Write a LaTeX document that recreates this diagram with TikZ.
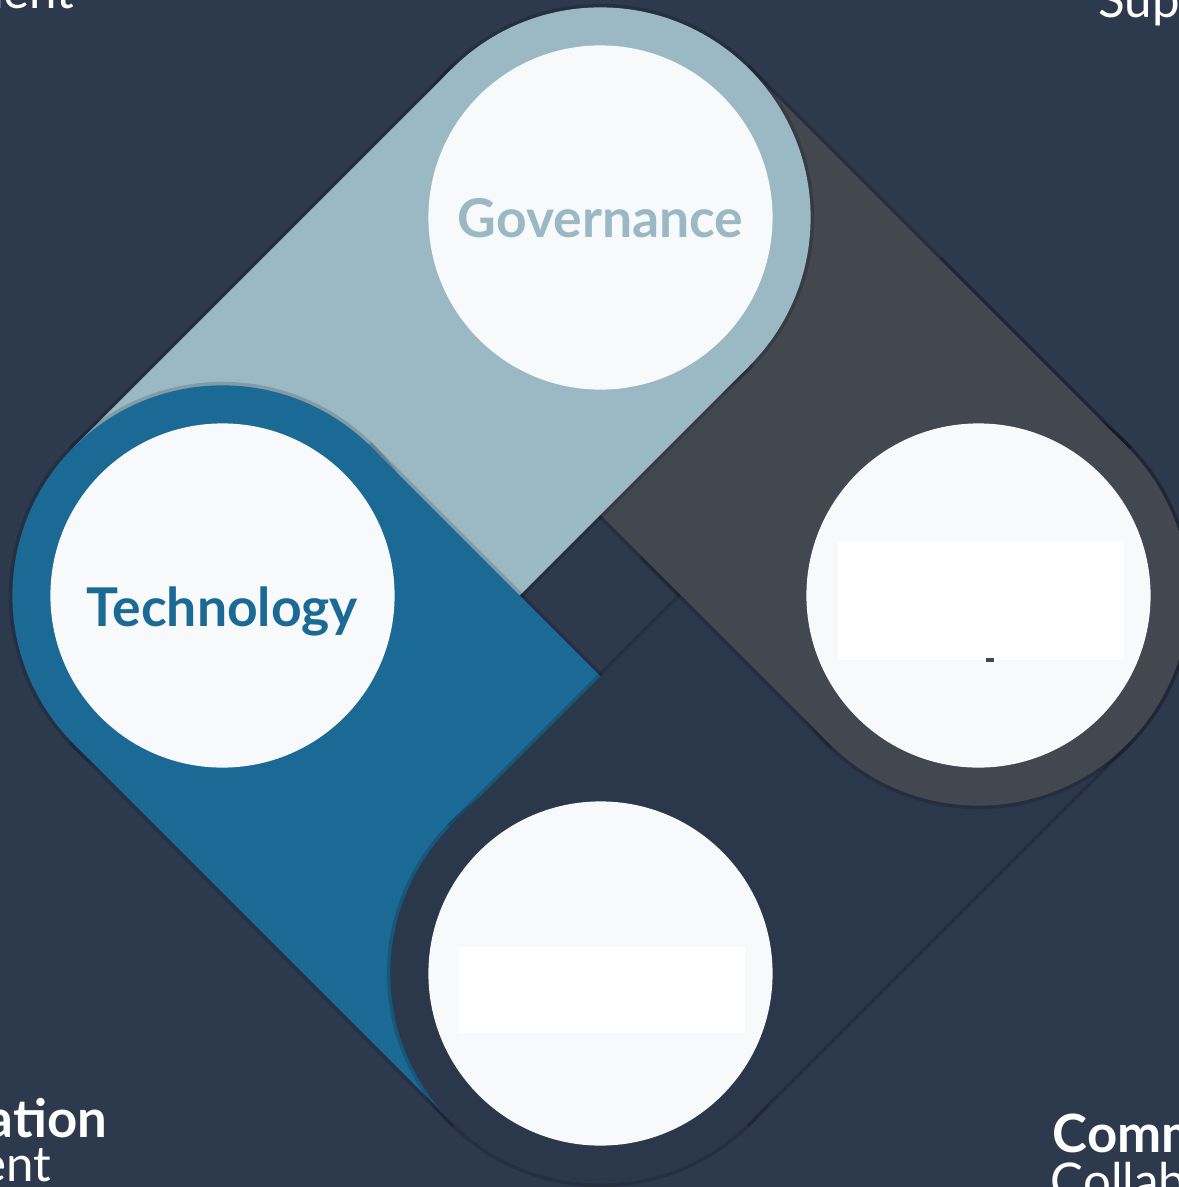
\documentclass[tikz,border=0pt]{standalone}
\usepackage{fontspec}
\setmainfont{Lato}
\usetikzlibrary{calc}

\definecolor{bgnavy}{HTML}{2D394D}
\definecolor{govblue}{HTML}{9BB9C5}
\definecolor{techblue}{HTML}{1B6A96}
\definecolor{eastgray}{HTML}{43474F}
\definecolor{southnavy}{HTML}{2B374B}
\definecolor{discwhite}{HTML}{F8F9FA}

% petal = ring round #2 plus a band running on to #3
\newcommand\petal[3]{%
  \draw[halo] (#2) circle (2.1cm);
  \draw[halo] ($(#2)!2.1cm!90:(#3)$) -- ($(#3)!2.1cm!-90:(#2)$)
    -- ($(#3)!2.1cm!90:(#2)$) -- ($(#2)!2.1cm!-90:(#3)$) -- cycle;
  \fill[#1] (#2) circle (2.1cm);
  \fill[#1] ($(#2)!2.1cm!90:(#3)$) -- ($(#3)!2.1cm!-90:(#2)$)
    -- ($(#3)!2.1cm!90:(#2)$) -- ($(#2)!2.1cm!-90:(#3)$) -- cycle;
}

\begin{document}
\begin{tikzpicture}[x=0.01cm,y=-0.01cm,
    halo/.style={draw=black,draw opacity=0.16,line width=2pt},
    disc/.style={circle,fill=discwhite,minimum size=3.44cm,inner sep=0pt,
      font=\fontsize{15.2}{18}\selectfont\bfseries},
    corner/.style={text=white,inner sep=0pt,font=\fontsize{14}{17}\selectfont},
    cornerbold/.style={corner,font=\fontsize{15}{18}\selectfont\bfseries}]
    \useasboundingbox (0,0) rectangle (1179,1187);
    \clip (0,0) rectangle (1179,1187);
    \fill[bgnavy] (0,0) rectangle (1179,1187);

    \coordinate (G) at (600.5,217.5);
    \coordinate (T) at (222.5,595.5);
    \coordinate (B) at (600.5,973.5);
    \coordinate (R) at (978.5,595.5);

    % each petal sits over the one before it
    \petal{eastgray}{R}{G}
    \petal{govblue}{G}{T}
    \petal{techblue}{T}{B}
    \petal{southnavy}{B}{R}
    \begin{scope}
        \clip (1198,0) -- (1400,0) -- (1400,1400) -- (0,1400) -- (0,1198) -- cycle;
        \petal{eastgray}{R}{G}
    \end{scope}

    \node[disc,text=govblue,text depth=0pt] (Gov) at (G) {Governance};
    \node[disc,text=techblue,text height=17.4pt,text depth=0pt] (Tech) at (T) {Technology};
    \node[disc] (E) at (R) {};
    \node[disc] (S) at (B) {};

    \fill[white] (838,541) rectangle (1124,660);
    \fill[eastgray] (986,658) rectangle (994,662);
    \fill[white] (459,947) rectangle (745,1033);

    \node[corner,anchor=base east] (tl) at (75,8) {nent};
    \node[corner,anchor=base west] (tr) at (1098,17) {Supp};
    \node[cornerbold,anchor=base east] (bl) at (108,1137) {ation};
    \node[corner,anchor=base east] (bl2) at (52,1181) {ent};
    \node[cornerbold,anchor=base west] (br) at (1052,1152) {Comm};
    \node[corner,anchor=base west] (br2) at (1050,1198) {Collabo};
\end{tikzpicture}
\end{document}
